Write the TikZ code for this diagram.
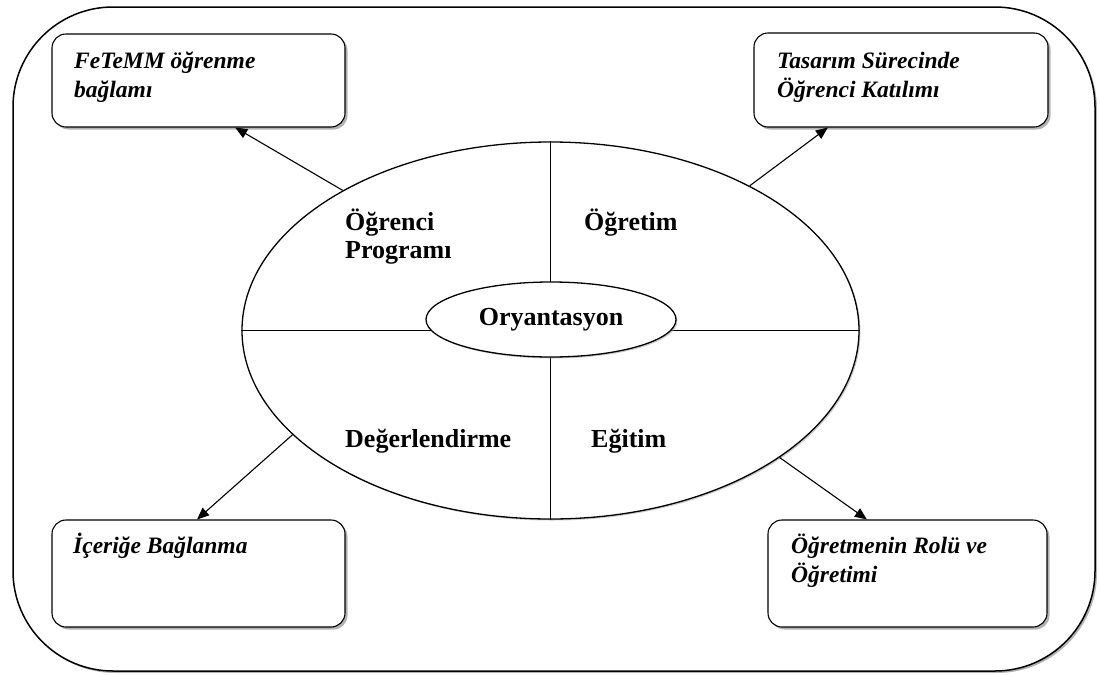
\documentclass[tikz,border=0pt]{standalone}
\usepackage{fontspec}
\setmainfont{Liberation Serif}
\usetikzlibrary{shapes.geometric,shadows,calc,arrows.meta}
\begin{document}
\begin{tikzpicture}[x=1pt,y=-1pt,
  box/.style={draw=black, line width=1.1pt, rounded corners=14pt, fill=white, inner sep=0pt,
    drop shadow={shadow xshift=2.5pt, shadow yshift=-2.5pt, fill=black!50, opacity=0.6}},
  boxtext/.style={font=\fontsize{23.5}{29.5}\selectfont\bfseries\itshape, align=left, anchor=base west, inner sep=0pt},
  lbl/.style={font=\fontsize{26}{28}\selectfont\bfseries, align=left, anchor=base west, inner sep=0pt},
  oval/.style={ellipse, draw=black, line width=1.3pt, fill=white, inner sep=0pt,
    drop shadow={shadow xshift=1.5pt, shadow yshift=-1.5pt, fill=black!40, opacity=0.5}},
  arr/.style={-{Triangle[length=12pt,width=10pt]}, line width=1.1pt},
  sep/.style={line width=1.1pt}]

\useasboundingbox (0,0) rectangle (1100,675);

% outer frame
\draw[line width=1.5pt, rounded corners=100pt, fill=white,
  drop shadow={shadow xshift=2pt, shadow yshift=-2pt, fill=black!50, opacity=0.6}]
  (13,7) rectangle (1095,671);

% central ellipses
\node[oval, minimum width=617pt, minimum height=377pt] (big) at (550.5,330.5) {};
\draw[sep] (big.west) -- (550.5,330.5) -- (big.east);
\draw[sep] (big.north) -- (big.south);
\node[oval, minimum width=250pt, minimum height=75pt,
  font=\fontsize{26}{28}\selectfont\bfseries] (ori) at (551,319.5) {Oryantasyon};

% quadrant labels (anchor = baseline of last line)
\node[lbl] (l1) at (345,258) {Öğrenci\\Programı};
\node[lbl] (l2) at (584,230) {Öğretim};
\node[lbl] (l3) at (345,447) {Değerlendirme};
\node[lbl] (l4) at (591,447) {Eğitim};

% corner boxes
\node[box, minimum width=293pt, minimum height=93pt] (b1) at (198.5,80.5) {};
\node[box, minimum width=294pt, minimum height=94pt] (b2) at (901,80) {};
\node[box, minimum width=293pt, minimum height=107pt] (b3) at (198.5,573.5) {};
\node[box, minimum width=279pt, minimum height=107pt] (b4) at (907.5,573.5) {};

\node[boxtext] (t1) at (74,97.5) {FeTeMM öğrenme\\bağlamı};
\node[boxtext] (t2) at (777,97.5) {Tasarım Sürecinde\\Öğrenci Katılımı};
\node[boxtext] (t3) at (73,553) {İçeriğe Bağlanma};
\node[boxtext] (t4) at (791,582.5) {Öğretmenin Rolü ve\\Öğretimi};

% arrows
\draw[arr] (big.146.85) -- ($(b1.south west)!0.625!(b1.south east)$);
\draw[arr] (big.36.9) -- ($(b2.south west)!0.252!(b2.south east)$);
\draw[arr] (big.202.4) -- ($(b3.north west)!0.495!(b3.north east)$);
\draw[arr] (big.331.6) -- ($(b4.north west)!0.355!(b4.north east)$);
\end{tikzpicture}
\end{document}
